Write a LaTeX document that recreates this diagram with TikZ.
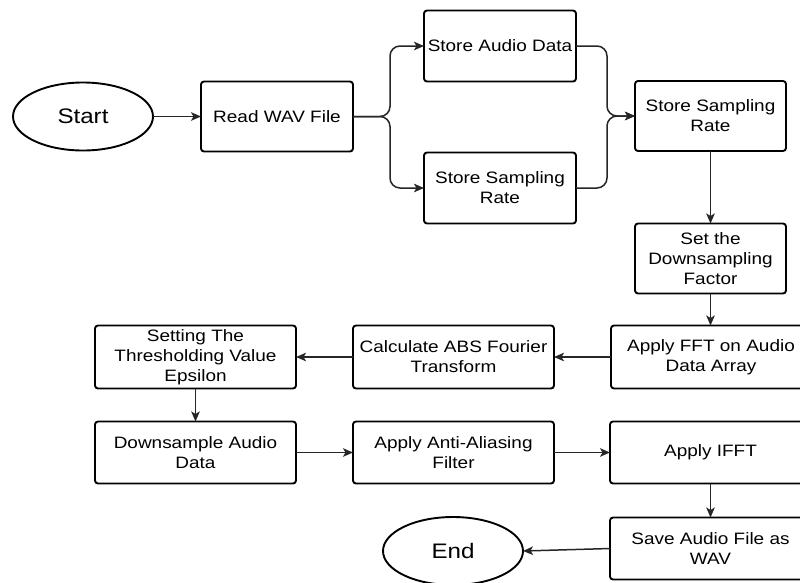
\documentclass[tikz,border=0pt]{standalone}
\usepackage{fontspec}
\setmainfont{Liberation Sans}[FakeStretch=1.15]
\usetikzlibrary{shapes.geometric,arrows.meta}

\begin{document}
\begin{tikzpicture}[x=1pt,y=-1pt,
  every node/.style={inner sep=0pt, outer sep=0pt, text=black},
  procbox/.style={draw=black, line width=1.9pt, rounded corners=3pt, rectangle,
    align=center, font=\fontsize{16.5}{20}\selectfont},
  terminal/.style={draw=black, line width=1.9pt, ellipse,
    minimum width=140pt, minimum height=68pt, font=\fontsize{21}{24}\selectfont},
  flow/.style={draw=black!85, line width=1.5pt,
    -{Stealth[length=10pt, width=8.5pt, inset=2.5pt]}},
  branch/.style={flow, rounded corners=10pt}
]
\useasboundingbox (0,0) rectangle (800,582);
\clip (0,0) rectangle (800,582);
\fill[white] (0,0) rectangle (800,582);

% terminals
\node[terminal] (start) at (83,116.5) {Start};
\node[terminal] (finish) at (453,551) {End};

% top row
\node[procbox, minimum width=152pt, minimum height=70pt] (read) at (277,116.5) {Read WAV File};
\node[procbox, minimum width=152pt, minimum height=71pt] (audio) at (500,46) {Store Audio Data};
\node[procbox, minimum width=152pt, minimum height=71pt] (rateA) at (500,188) {Store Sampling\\Rate};
\node[procbox, minimum width=151pt, minimum height=70pt] (rateB) at (710.5,116) {Store Sampling\\Rate};
\node[procbox, minimum width=151pt, minimum height=70pt] (factor) at (710.5,258.5) {Set the\\Downsampling\\Factor};

% third row
\node[procbox, minimum width=200pt, minimum height=63pt] (fft) at (711,357) {Apply FFT on Audio\\Data Array};
\node[procbox, minimum width=201pt, minimum height=63pt] (absft) at (453.5,357) {Calculate ABS Fourier\\Transform};
\node[procbox, minimum width=201pt, minimum height=63pt] (thresh) at (195.5,357) {Setting The\\Thresholding Value\\Epsilon};

% fourth row
\node[procbox, minimum width=201pt, minimum height=62pt] (down) at (195.5,452.5) {Downsample Audio\\Data};
\node[procbox, minimum width=201pt, minimum height=62pt] (alias) at (453.5,452.5) {Apply Anti-Aliasing\\Filter};
\node[procbox, minimum width=201pt, minimum height=62pt] (ifft) at (710.5,452.5) {Apply IFFT};

% last row
\node[procbox, minimum width=201pt, minimum height=62pt] (save) at (710.5,548.5) {Save Audio File as\\WAV};

% connectors
\draw[flow] (start.east) -- (read.west);
\draw[branch] (read.east) -- ++(37,0) |- (audio.west);
\draw[branch] (read.east) -- ++(37,0) |- (rateA.west);
\draw[branch] (audio.east) -- ++(31,0) |- (rateB.west);
\draw[branch] (rateA.east) -- ++(31,0) |- (rateB.west);
\draw[flow] (rateB.south) -- (factor.north);
\draw[flow] (factor.south) -- (factor.south |- fft.north);
\draw[flow] (fft.west) -- (absft.east);
\draw[flow] (absft.west) -- (thresh.east);
\draw[flow] (thresh.south) -- (down.north);
\draw[flow] (down.east) -- (alias.west);
\draw[flow] (alias.east) -- (ifft.west);
\draw[flow] (ifft.south) -- (save.north);
\draw[flow] (save.west) -- (finish.east);
\end{tikzpicture}
\end{document}
